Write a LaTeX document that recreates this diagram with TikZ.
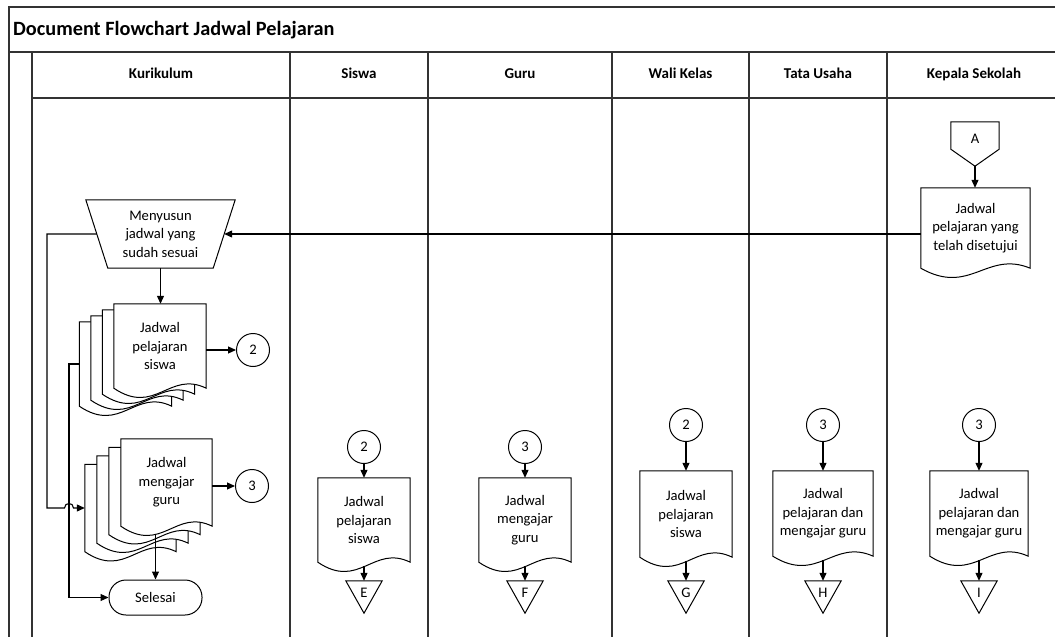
\documentclass[tikz,border=0pt]{standalone}
\usepackage{fontspec}
\setmainfont{Carlito}
\usetikzlibrary{calc,arrows.meta,backgrounds}

% outline of a document symbol around a (rectangular) node
\newcommand\docoutline[2][]{%
  \draw[shp,#1] (#2.south west) -- (#2.north west) -- (#2.north east) -- (#2.south east)
    .. controls ($(#2.south east)!0.4!(#2.south west)+(0,-18)$)
           and ($(#2.south east)!0.55!(#2.south west)+(0,28)$) .. (#2.south west) -- cycle;}
% off-page connector pointing down
\newcommand\offpage[1]{%
  \draw[shp] (#1.north west) -- (#1.north east) -- (#1.south) -- cycle;}

\begin{document}
\begin{tikzpicture}[x=1pt,y=-1pt,
  frame/.style={line width=1.5pt,draw=black!80},
  shp/.style={line width=1pt},
  conn/.style={line width=1.1pt,-{Triangle[length=8pt,width=7pt]}},
  txt/.style={font=\fontsize{14.6}{18.5}\selectfont,align=center,inner sep=0pt},
  hdr/.style={font=\fontsize{15}{18}\bfseries\selectfont,inner sep=0pt,text height=10.5pt,text depth=3pt},
  docbox/.style n args={2}{txt,minimum width=#1,minimum height=#2},
  circ/.style={txt,circle,draw,shp,minimum size=33pt},
  term/.style={txt,draw,shp,rounded corners=17pt,minimum width=93pt,minimum height=35pt},
  offpg/.style={txt,minimum width=36pt,minimum height=32pt,text height=9.5pt,text depth=8pt},
]
\useasboundingbox (0,0) rectangle (1055,637);

% ---------- swimlane frame ----------
\begin{pgfonlayer}{background}
\draw[frame] (1055,7) -- (9,7) -- (9,637);
\draw[frame] (9,52) -- (1055,52);
\draw[frame] (32,98) -- (1055,98);
\foreach \lx in {32,290,428,612,749,887}
  \draw[frame] (\lx,52) -- (\lx,637);
\end{pgfonlayer}

\node[anchor=west,font=\fontsize{20.3}{23}\bfseries\selectfont,inner sep=0pt] (title) at (13,30) {Document Flowchart Jadwal Pelajaran};
\node[hdr] (h1) at (161,75) {Kurikulum};
\node[hdr] (h2) at (359,75) {Siswa};
\node[hdr] (h3) at (520,75) {Guru};
\node[hdr] (h4) at (680.5,75) {Wali Kelas};
\node[hdr] (h5) at (818,75) {Tata Usaha};
\node[hdr] (h6) at (974,75) {Kepala Sekolah};

% ---------- Kepala Sekolah (top) ----------
\node[txt,minimum width=48pt,minimum height=27pt,text height=16.5pt,text depth=0pt] (offA) at (975,135.5) {A};
\coordinate (apexA) at ($(offA.south)+(0,17)$);
\draw[shp] (offA.north west) -- (offA.north east) -- (offA.south east) -- (apexA) -- (offA.south west) -- cycle;
\node[docbox={109pt}{80pt}] (ksdoc) at (975.5,228) {Jadwal\\pelajaran yang\\telah disetujui};
\docoutline{ksdoc}
\draw[conn] (apexA) -- (apexA |- ksdoc.north);

% ---------- Kurikulum ----------
\node[txt,minimum width=149pt,minimum height=68pt] (trap) at (160.5,234) {Menyusun\\jadwal yang\\sudah sesuai};
\draw[shp] (trap.north west) -- (trap.north east) -- ([xshift=-22pt]trap.south east)
  -- ([xshift=22pt]trap.south west) -- cycle;
\coordinate (trapR) at ($(trap.east)+(-11,0)$);
\coordinate (trapL) at ($(trap.west)+(11,0)$);
\draw[conn] (ksdoc.west |- trapR) -- (trapR);

% stack: Jadwal pelajaran siswa
\node[docbox={92pt}{84pt}] (jps) at (160,346) {Jadwal\\pelajaran\\siswa};
\node[docbox={92pt}{84pt}] (jps2) at ($(jps)+(-11.5,6)$) {};
\node[docbox={92pt}{84pt}] (jps3) at ($(jps)+(-23,12)$) {};
\node[docbox={92pt}{84pt}] (jps4) at ($(jps)+(-34.5,18)$) {};
% stack: Jadwal mengajar guru
\node[docbox={91pt}{87pt}] (jmg) at (166.5,482.5) {Jadwal\\mengajar\\guru};
\node[docbox={91pt}{87pt}] (jmg2) at ($(jmg)+(-12,8.5)$) {};
\node[docbox={91pt}{87pt}] (jmg3) at ($(jmg)+(-24,17)$) {};
\node[docbox={91pt}{87pt}] (jmg4) at ($(jmg)+(-36,25.5)$) {};
\begin{pgfonlayer}{background}
\foreach \pg in {jps4,jps3,jps2,jps,jmg4,jmg3,jmg2,jmg}
  {\docoutline[fill=white]{\pg}}
\end{pgfonlayer}

\node[circ] (c2a) at (253,350) {2};
\node[circ] (c3a) at (252,486) {3};
\node[term] (sel) at (155.5,597.5) {Selesai};

\draw[conn] (trap.south) -- (trap.south |- jps.north);
\draw[conn] (jps.east |- c2a.west) -- (c2a.west);
\draw[conn] (jmg.east |- c3a.west) -- (c3a.west);
\draw[conn] ($(sel.north |- jmg.south)+(0,8)$) -- (sel.north);

\coordinate (loopA) at (47,0);
\coordinate (loopB) at (69,0);
\draw[conn] (jps4.west) -| (loopB |- sel.west) -- (sel.west);
\draw[conn] (trapL) -| (loopA |- jmg4.west)
  -- ($(loopB |- jmg4.west)+(-4.5,0)$) .. controls +(0,-6) and +(0,-6) .. ($(loopB |- jmg4.west)+(4.5,0)$)
  -- (jmg4.west);

% ---------- Siswa ----------
\node[circ] (c2b) at (364,447) {2};
\node[docbox={92pt}{84pt}] (sdoc) at (364,520) {Jadwal\\pelajaran\\siswa};
\docoutline{sdoc}
\node[offpg] (offE) at (364,597) {E};
\offpage{offE}
\draw[conn] (c2b.south) -- (sdoc.north);
\draw[conn] ($(sdoc.south)+(0,4)$) -- (offE.north);

% ---------- Guru ----------
\node[circ] (c3b) at (525,447) {3};
\node[docbox={92pt}{84pt}] (gdoc) at (525,520) {Jadwal\\mengajar\\guru};
\docoutline{gdoc}
\node[offpg] (offF) at (525,597) {F};
\offpage{offF}
\draw[conn] (c3b.south) -- (gdoc.north);
\draw[conn] ($(gdoc.south)+(0,4)$) -- (offF.north);

% ---------- Wali Kelas ----------
\node[circ] (c2c) at (686,425) {2};
\node[docbox={92pt}{86pt}] (wdoc) at (686,514) {Jadwal\\pelajaran\\siswa};
\docoutline{wdoc}
\node[offpg] (offG) at (686,597) {G};
\offpage{offG}
\draw[conn] (c2c.south) -- (wdoc.north);
\draw[conn] ($(wdoc.south)+(0,4)$) -- (offG.north);

% ---------- Tata Usaha ----------
\node[circ] (c3c) at (823,425) {3};
\node[docbox={100pt}{85pt}] (tdoc) at (823,513.5) {Jadwal\\pelajaran dan\\mengajar guru};
\docoutline{tdoc}
\node[offpg] (offH) at (823,597) {H};
\offpage{offH}
\draw[conn] (c3c.south) -- (tdoc.north);
\draw[conn] ($(tdoc.south)+(0,4)$) -- (offH.north);

% ---------- Kepala Sekolah (bottom) ----------
\node[circ] (c3d) at (979,425) {3};
\node[docbox={98pt}{85pt}] (kdoc) at (979,513.5) {Jadwal\\pelajaran dan\\mengajar guru};
\docoutline{kdoc}
\node[offpg] (offI) at (979,597) {I};
\offpage{offI}
\draw[conn] (c3d.south) -- (kdoc.north);
\draw[conn] ($(kdoc.south)+(0,4)$) -- (offI.north);
\end{tikzpicture}
\end{document}
